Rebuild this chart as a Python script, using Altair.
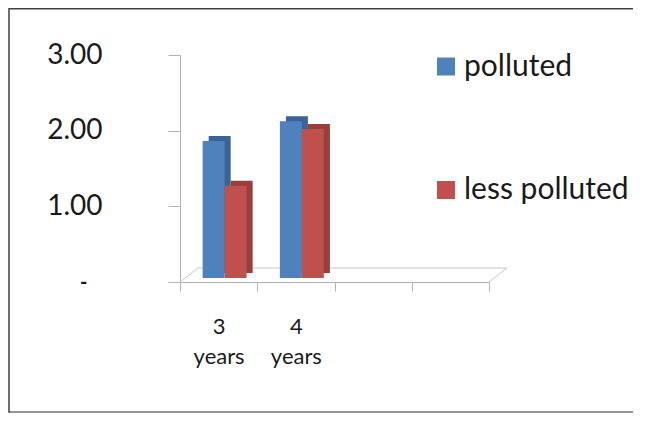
import altair as alt
import pandas as pd

# ---- data ----
categories = ["3 years", "4 years"]
x_slots = ["3 years", "4 years", "blank 1", "blank 2"]
series_names = ["polluted", "less polluted"]
polluted = [1.81, 2.07]
less_polluted = [1.22, 1.97]
y_ticks = [0, 1, 2, 3]

front_colors = ["#4f81bd", "#c0504d"]
side_colors = ["#3a6497", "#963f3c"]
AXIS_GREY = "#b3b3b3"
TEXT = "#1a1a1a"
FONT = "Lato"

rows = []
for c, p, l in zip(categories, polluted, less_polluted):
    rows.append({"period": c, "series": "polluted", "value": p})
    rows.append({"period": c, "series": "less polluted", "value": l})
df = pd.DataFrame(rows)

W, H = 309, 227
PAD = {"left": 172, "top": 47, "right": 144, "bottom": 131}
DY = -5               # bar depth (vertical)
FDX, FDY = 18, -14    # floor depth
LIFT = -4             # bars stand on the back of the floor edge

BLANK = "\u2800"      # invisible, non-trimmed padding after the zero dash

x_enc = alt.X(
    "period:N",
    scale=alt.Scale(domain=x_slots, paddingInner=0, paddingOuter=0),
    axis=alt.Axis(
        title=None, tickBand="extent", tickSize=9, tickColor=AXIS_GREY,
        domainColor=AXIS_GREY, labelAngle=0, labelFont=FONT, labelFontSize=22,
        labelColor=TEXT, labelLineHeight=30, labelPadding=25,
        labelExpr="indexof(datum.label, 'blank') == 0 ? '' : split(datum.label, ' ')",
        grid=False,
    ),
)


def xo(align):
    return alt.XOffset(
        "series:N",
        scale=alt.Scale(domain=series_names, paddingInner=0, paddingOuter=0.757, align=align),
    )


y_enc = alt.Y(
    "value:Q",
    scale=alt.Scale(domain=[0, 3], nice=False),
    axis=alt.Axis(
        title=None, values=y_ticks, tickSize=12, tickColor=AXIS_GREY,
        domainColor=AXIS_GREY, labelFont=FONT, labelColor=TEXT,
        labelFontSize={"condition": {"test": "datum.value == 0", "value": 20}, "value": 28},
        labelFontWeight={"condition": {"test": "datum.value == 0", "value": "bold"}, "value": "normal"},
        labelPadding=66, grid=False,
        labelExpr="datum.value == 0 ? '-" + BLANK + "' : format(datum.value, '.2f')",
    ),
)

base = alt.Chart(df)

back = base.mark_bar(yOffset=LIFT + DY, y2Offset=LIFT + DY).encode(
    x=x_enc, xOffset=xo(0.862), y=y_enc,
    color=alt.Color("series:N", scale=alt.Scale(domain=series_names, range=side_colors), legend=None),
)

front = base.mark_bar(yOffset=LIFT, y2Offset=LIFT).encode(
    x=x_enc, xOffset=xo(0.68), y=y_enc,
    color=alt.Color(
        "series:N",
        scale=alt.Scale(domain=series_names, range=front_colors),
        legend=alt.Legend(
            title=None, orient="none", legendX=251, legendY=-3.5,
            symbolType="square", symbolSize=324, symbolStrokeWidth=0,
            labelFont=FONT, labelFontSize=30, labelColor=TEXT, labelLimit=400,
            rowPadding=93.5, labelOffset=3, padding=0,
        ),
    ),
)

one = alt.Chart(pd.DataFrame({"k": [0]}))
floor_back = one.mark_rule(color="#c8c8c8", yOffset=FDY).encode(
    x=alt.value(FDX), x2=alt.value(W + FDX), y=alt.datum(0)
)
floor_left = one.mark_rule(color="#c8c8c8", y2Offset=FDY).encode(
    x=alt.value(0), x2=alt.value(FDX), y=alt.datum(0), y2=alt.datum(0)
)
floor_right = one.mark_rule(color="#c8c8c8", y2Offset=FDY).encode(
    x=alt.value(W), x2=alt.value(W + FDX), y=alt.datum(0), y2=alt.datum(0)
)

# picture frame: dark box whose right side falls outside the picture, grey bottom
frame_box = one.mark_rect(fill="transparent", stroke="#404040", strokeWidth=1.5).encode(
    x=alt.value(-PAD["left"] + 1), x2=alt.value(W + PAD["right"] + 30),
    y=alt.value(-PAD["top"] + 0.75), y2=alt.value(H + PAD["bottom"] - 1)
)
frame_bottom = one.mark_rule(color="#a0a0a0", strokeWidth=1.5).encode(
    x=alt.value(-PAD["left"] + 2), x2=alt.value(W + PAD["right"]),
    y=alt.value(H + PAD["bottom"] - 1)
)

chart = (
    alt.layer(floor_back, floor_left, floor_right, back, front,
              frame_box, frame_bottom)
    .resolve_scale(color="independent", xOffset="independent")
    .properties(width=W, height=H, padding=PAD, autosize=alt.AutoSizeParams(type="none"),
                background="white")
    .configure_view(stroke=None)
)

chart.save("out.html", embed_options={"renderer": "svg", "actions": False})
